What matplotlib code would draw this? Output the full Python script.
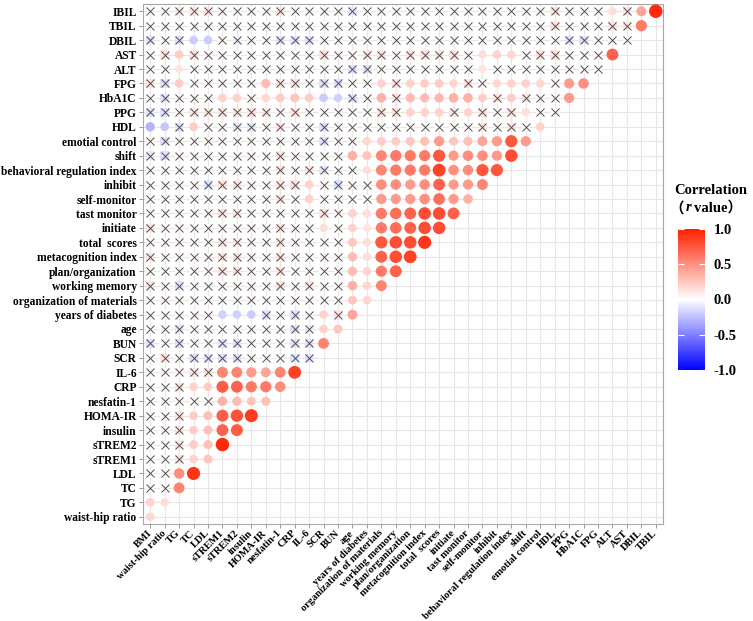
import numpy as np
import matplotlib.pyplot as plt
from matplotlib.colors import LinearSegmentedColormap
from matplotlib.cm import ScalarMappable

plt.rcParams['font.family'] = ['Liberation Serif', 'Noto Sans CJK SC']
plt.rcParams['font.weight'] = 'bold'

# variable order along x; rows (bottom -> top) are variables[1:]
variables = ['BMI', 'waist-hip ratio', 'TG', 'TC', 'LDL', 'sTREM1', 'sTREM2', 'insulin',
             'HOMA-IR', 'nesfatin-1', 'CRP', 'IL-6', 'SCR', 'BUN', 'age', 'years of diabetes',
             'organization of materials', 'working memory', 'plan/organization',
             'metacognition index', 'total  scores', 'initiate', 'tast monitor', 'self-monitor',
             'inhibit', 'behavioral regulation index', 'shift', 'emotial control', 'HDL', 'PPG',
             'HbA1C', 'FPG', 'ALT', 'AST', 'DBIL', 'TBIL', 'IBIL']

# r of variables[k+1] with variables[0..k]
r_rows = [
    [0.18],
    [0.20, 0.15],
    [0.03, 0.03, 0.55],
    [0.03, 0.03, 0.50, 0.90],
    [0.03, 0.03, 0.12, 0.20, 0.25],
    [0.03, 0.03, 0.12, 0.22, 0.28, 0.95],
    [0.03, 0.03, 0.12, 0.22, 0.28, 0.70, 0.72],
    [0.03, 0.03, 0.12, 0.22, 0.28, 0.72, 0.78, 0.88],
    [0.03, 0.03, 0.03, 0.03, 0.03, 0.35, 0.30, 0.25, 0.28],
    [0.03, 0.03, 0.12, 0.20, 0.22, 0.72, 0.70, 0.60, 0.60, 0.50],
    [0.03, 0.03, 0.03, 0.12, 0.12, 0.55, 0.55, 0.45, 0.40, 0.55, 0.85],
    [0.03, 0.12, 0.03, -0.12, -0.12, -0.12, -0.12, 0.03, 0.03, 0.03, -0.12, -0.12],
    [-0.12, 0.03, -0.12, 0.03, 0.03, -0.12, -0.12, 0.03, 0.03, 0.03, -0.12, -0.12, 0.55],
    [0.03, 0.03, -0.12, 0.03, 0.03, 0.03, 0.03, 0.03, 0.03, 0.03, -0.12, -0.08, 0.20, 0.25],
    [0.03, 0.03, 0.03, 0.03, 0.03, -0.18, -0.18, -0.20, -0.12, 0.03, -0.12, 0.03, 0.20, 0.12,
     0.40],
    [0.03, 0.03, 0.03, 0.03, 0.03, 0.03, 0.03, 0.03, 0.03, 0.03, 0.03, 0.03, 0.03, 0.03,
     0.25, 0.18],
    [0.12, 0.03, -0.12, 0.03, 0.03, 0.03, 0.03, 0.03, 0.03, 0.12, 0.03, 0.12, 0.03, 0.03,
     0.35, 0.18, 0.55],
    [0.03, 0.03, 0.03, 0.03, 0.03, 0.12, 0.12, 0.03, 0.03, 0.12, 0.03, 0.03, 0.03, 0.03,
     0.30, 0.18, 0.60, 0.70],
    [0.12, 0.03, 0.03, 0.03, 0.03, 0.12, 0.12, 0.03, 0.03, 0.12, 0.03, 0.03, 0.03, 0.03,
     0.30, 0.15, 0.70, 0.80, 0.85],
    [0.03, 0.03, 0.03, 0.03, 0.03, 0.10, 0.10, 0.03, 0.03, 0.12, 0.03, 0.03, 0.03, 0.03,
     0.25, 0.15, 0.75, 0.80, 0.80, 0.90],
    [0.12, 0.03, 0.03, 0.03, 0.03, 0.03, 0.03, 0.03, 0.03, 0.12, 0.03, 0.03, 0.15, 0.03,
     0.20, 0.12, 0.60, 0.65, 0.70, 0.80, 0.80],
    [0.03, 0.03, 0.03, 0.03, 0.03, 0.12, 0.12, 0.03, 0.03, 0.03, 0.03, 0.03, 0.12, 0.03,
     0.20, 0.15, 0.60, 0.65, 0.70, 0.80, 0.80, 0.70],
    [0.03, 0.03, 0.03, 0.03, 0.03, 0.03, 0.03, 0.03, 0.03, 0.12, 0.03, 0.20, 0.03, 0.03,
     0.03, 0.03, 0.45, 0.45, 0.45, 0.50, 0.65, 0.45, 0.35],
    [0.03, 0.03, 0.03, 0.03, -0.12, 0.12, 0.12, 0.03, 0.03, 0.12, 0.12, 0.20, 0.03, -0.12,
     0.03, 0.03, 0.50, 0.50, 0.45, 0.50, 0.70, 0.45, 0.45, 0.55],
    [0.03, 0.03, 0.03, 0.03, 0.03, 0.03, 0.03, 0.03, 0.03, 0.12, 0.03, 0.12, -0.10, 0.03,
     0.03, 0.15, 0.55, 0.60, 0.60, 0.60, 0.85, 0.50, 0.50, 0.75, 0.75],
    [-0.10, -0.12, 0.03, 0.03, 0.03, 0.03, 0.03, 0.03, 0.03, 0.12, 0.03, 0.03, 0.03, 0.03,
     0.35, 0.25, 0.55, 0.60, 0.60, 0.60, 0.75, 0.45, 0.50, 0.50, 0.45, 0.80],
    [0.03, -0.12, 0.03, 0.03, 0.03, 0.03, 0.03, 0.03, 0.03, 0.03, 0.03, 0.03, -0.12, 0.03,
     0.03, 0.18, 0.22, 0.22, 0.25, 0.28, 0.45, 0.25, 0.28, 0.40, 0.45, 0.75, 0.45],
    [-0.30, -0.22, -0.12, 0.22, 0.03, 0.03, -0.10, -0.10, 0.03, 0.12, 0.03, 0.03, -0.12, 0.03,
     0.03, 0.03, 0.03, 0.03, 0.03, 0.03, 0.03, 0.03, 0.03, 0.10, 0.03, 0.12, 0.03, 0.20],
    [-0.12, -0.12, 0.03, 0.12, 0.12, 0.12, 0.12, 0.12, 0.12, 0.03, 0.12, 0.03, 0.03, 0.03,
     0.03, 0.03, 0.12, 0.12, 0.20, 0.20, 0.20, 0.12, 0.20, 0.12, 0.03, 0.12, 0.15, 0.03,
     0.03],
    [0.03, -0.12, 0.03, 0.03, 0.03, 0.20, 0.20, 0.03, 0.18, 0.22, 0.25, 0.22, -0.20, -0.18,
     -0.12, 0.03, 0.35, 0.12, 0.30, 0.30, 0.32, 0.35, 0.35, 0.22, 0.12, 0.22, 0.12, 0.03,
     0.03, 0.45],
    [0.12, -0.12, 0.22, 0.03, 0.03, 0.03, 0.03, 0.03, 0.30, 0.12, 0.12, 0.03, -0.12, -0.12,
     0.03, 0.03, 0.20, 0.12, 0.20, 0.22, 0.22, 0.18, 0.12, 0.03, 0.18, 0.20, 0.20, 0.18,
     0.03, 0.45, 0.50],
    [0.03, 0.03, 0.12, 0.03, 0.03, 0.03, 0.03, 0.03, 0.03, 0.03, 0.03, 0.03, 0.03, 0.03,
     -0.12, -0.12, 0.03, 0.03, 0.03, 0.03, 0.03, 0.03, 0.03, 0.12, 0.03, 0.03, 0.03, 0.03,
     0.03, 0.03, 0.03, 0.03],
    [0.03, 0.12, 0.22, 0.12, 0.03, 0.03, 0.03, 0.03, 0.03, 0.03, 0.03, 0.03, 0.12, 0.03,
     0.03, 0.12, 0.12, 0.03, 0.12, 0.12, 0.12, 0.12, 0.03, 0.15, 0.20, 0.18, 0.03, 0.12,
     0.12, 0.03, 0.03, 0.03, 0.70],
    [-0.12, 0.03, -0.12, -0.20, -0.20, 0.03, -0.06, 0.03, 0.03, -0.12, -0.12, -0.12, 0.03,
     0.03, 0.03, 0.03, 0.03, 0.03, 0.03, 0.03, 0.03, 0.03, 0.03, 0.03, 0.03, 0.03, 0.03,
     0.03, 0.03, -0.12, -0.12, 0.03, 0.03, 0.03],
    [0.03, 0.03, 0.03, 0.03, 0.03, 0.03, 0.03, 0.03, 0.03, 0.03, 0.03, 0.03, 0.03, 0.03,
     0.03, 0.03, 0.03, 0.03, 0.03, 0.03, 0.03, 0.03, 0.03, 0.03, 0.03, 0.03, 0.03, 0.03,
     0.12, 0.03, 0.03, 0.03, 0.12, 0.12, 0.60],
    [0.03, 0.03, 0.10, 0.12, 0.12, 0.03, 0.03, 0.03, 0.03, 0.12, 0.03, 0.03, 0.03, 0.03,
     -0.10, 0.03, 0.03, 0.03, 0.03, 0.03, 0.03, 0.03, 0.03, 0.03, 0.03, 0.03, 0.03, 0.03,
     0.12, 0.03, 0.03, 0.03, 0.15, 0.12, 0.40, 0.95],
]

# 'o' = significant (circle), 'x' = not significant
sig_rows = [
    'o',
    'oo',
    'xxo',
    'xxoo',
    'xxxoo',
    'xxxooo',
    'xxxoooo',
    'xxxooooo',
    'xxxxxoooo',
    'xxxooooooo',
    'xxxxxoooooo',
    'xxxxxxxxxxxx',
    'xxxxxxxxxxxxo',
    'xxxxxxxxxxxxoo',
    'xxxxxoooxxxxoxo',
    'xxxxxxxxxxxxxxoo',
    'xxxxxxxxxxxxxxooo',
    'xxxxxxxxxxxxxxoooo',
    'xxxxxxxxxxxxxxooooo',
    'xxxxxxxxxxxxxxoooooo',
    'xxxxxxxxxxxxoxooooooo',
    'xxxxxxxxxxxxxxoooooooo',
    'xxxxxxxxxxxoxxxxooooooo',
    'xxxxxxxxxxxoxxxxoooooooo',
    'xxxxxxxxxxxxxxxoooooooooo',
    'xxxxxxxxxxxxxxoooooooooooo',
    'xxxxxxxxxxxxxxxoooooooooooo',
    'ooxoxxxxxxxxxxxxxxxxxxxxxxxo',
    'xxxxxxxxxxxxxxxxxxoooxoxxxoxx',
    'xxxxxooxooooooxxoxooooooxoxxxo',
    'xxoxxxxxoxxxxxxxoxooooxxooooxoo',
    'xxoxxxxxxxxxxxxxxxxxxxxoxxxxxxxx',
    'xxoxxxxxxxxxxxxxxxxxxxxoooxxxxxxo',
    'xxxooxxxxxxxxxxxxxxxxxxxxxxxxxxxxx',
    'xxxxxxxxxxxxxxxxxxxxxxxxxxxxxxxxxxo',
    'xxxxxxxxxxxxxxxxxxxxxxxxxxxxxxxxoxoo',
]

for k, (vals, sig) in enumerate(zip(r_rows, sig_rows)):
    if len(vals) != k + 1 or len(sig) != k + 1:
        raise ValueError(f'row {variables[k + 1]}: {len(vals)} values, {len(sig)} flags')

cmap = LinearSegmentedColormap.from_list('corr', ['#0000FF', '#FFFFFF', '#FF2000'])

fig = plt.figure(figsize=(7.53, 6.21), dpi=100)
ax = fig.add_axes([143 / 753, 1 - 524 / 621, 520 / 753, 520 / 621])

cx, cy, cr = [], [], []
qx, qy, qr = [], [], []
for k, (vals, sig) in enumerate(zip(r_rows, sig_rows)):
    for j, (r, s) in enumerate(zip(vals, sig)):
        if s == 'o':
            cx.append(j); cy.append(k); cr.append(r)
        else:
            qx.append(j); qy.append(k); qr.append(r)

cr = np.array(cr)
diam = (7.3 + 6.5 * np.abs(cr)) * 0.72
ax.scatter(cx, cy, s=diam ** 2, c=cr, cmap=cmap, vmin=-1, vmax=1,
           edgecolors='none', zorder=3)
ax.scatter(qx, qy, s=(8.5 * 0.72) ** 2, marker='s', c=qr, cmap=cmap, vmin=-1, vmax=1,
           edgecolors='none', zorder=2)
ax.scatter(qx, qy, s=(8 * 0.72) ** 2, marker='x', color='#505050', linewidths=0.7,
           zorder=3)

n = len(variables) - 1
ax.set_xlim(-0.5, n - 0.5)
ax.set_ylim(-0.5, n - 0.5)
ax.set_xticks(range(n))
ax.set_yticks(range(n))
ax.set_xticklabels(variables[:n], rotation=45, ha='right', va='center',
                   rotation_mode='anchor', fontsize=7.5, fontweight='bold')
ax.set_yticklabels(variables[1:], fontsize=8.3, fontweight='bold')
ax.grid(True, color='#E6E6E6', linewidth=0.8)
ax.set_axisbelow(True)
ax.tick_params(length=3, width=0.6, color='#888888', pad=1.5)
ax.tick_params(axis='x', pad=2.5)
for sp in ax.spines.values():
    sp.set_color('#A8A8A8')
    sp.set_linewidth(0.8)

# colour bar
cax = fig.add_axes([678 / 753, 1 - 370 / 621, 27 / 753, 141 / 621])
sm = ScalarMappable(cmap=cmap)
sm.set_clim(-1, 1)
cb = fig.colorbar(sm, cax=cax, ticks=[-1, -0.5, 0, 0.5, 1], format='%.1f')
cb.outline.set_visible(False)
cax.yaxis.set_ticks_position('both')
cax.tick_params(direction='in', length=4, width=0.8, color='white', labelsize=10.5, pad=6)
for t in cax.get_yticklabels():
    t.set_fontweight('bold')
cax.yaxis.set_tick_params(labelleft=False, labelright=True)

fig.text(711 / 753, 1 - 190 / 621, 'Correlation', ha='center', va='center',
         fontsize=10.5, fontweight='bold')
ty = 1 - 208 / 621
fig.text(669 / 753, ty, '（', ha='left', va='center', fontsize=10.5,
         family=['Noto Sans CJK SC'])
fig.text(686 / 753, ty, 'r', ha='left', va='center', fontsize=10.5,
         fontweight='bold', fontstyle='italic')
fig.text(694 / 753, ty, 'value）', ha='left', va='center', fontsize=10.5,
         fontweight='bold')

fig.savefig('out.png', dpi=100)
